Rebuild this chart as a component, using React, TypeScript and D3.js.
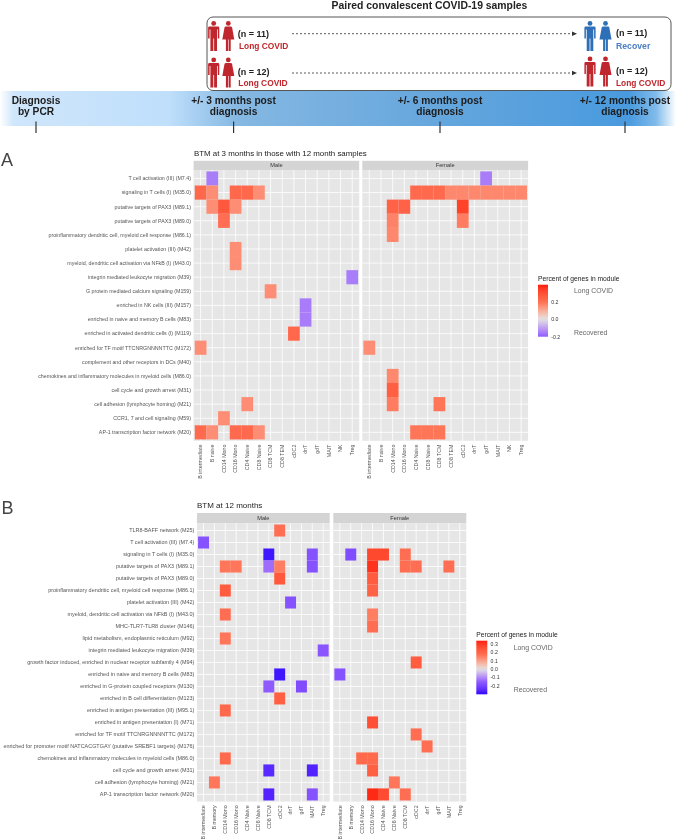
import React from "react";
import * as d3 from "d3";

const FONT = "'Liberation Sans', Arial, sans-serif";

const colsA = ["B intermediate","B naive","CD14 Mono","CD16 Mono","CD4 Naive","CD8 Naive","CD8 TCM","CD8 TEM","cDC2","dnT","gdT","MAIT","NK","Treg"];
const rowsA = [
  "T cell activation (III) (M7.4)","signaling in T cells (I) (M35.0)","putative targets of PAX3 (M89.1)","putative targets of PAX3 (M89.0)",
  "proinflammatory dendritic cell, myeloid cell response (M86.1)","platelet activation (III) (M42)","myeloid, dendritic cell activation via NFkB (I) (M43.0)",
  "integrin mediated leukocyte migration (M39)","G protein mediated calcium signaling (M159)","enriched in NK cells (III) (M157)","enriched in naive and memory B cells (M83)",
  "enriched in activated dendritic cells (I) (M119)","enriched for TF motif TTCNRGNNNNTTC (M172)","complement and other receptors in DCs (M40)",
  "chemokines and inflammatory molecules in myeloid cells (M86.0)","cell cycle and growth arrest (M31)","cell adhesion (lymphocyte homing) (M21)","CCR1, 7 and cell signaling (M59)","AP-1 transcription factor network (M20)",
];
type Cell = [number, number, number];
const maleA: Cell[] = [
  [0,1,-.15],[1,0,.22],[1,1,.15],[1,3,.22],[1,4,.22],[1,5,.15],[2,1,.15],[2,2,.27],[2,3,.15],[3,2,.2],[5,3,.15],[6,3,.15],
  [7,13,-.15],[8,6,.15],[9,9,-.15],[10,9,-.15],[11,8,.22],[12,0,.15],[16,4,.15],[17,2,.15],[18,0,.21],[18,1,.15],[18,3,.21],[18,4,.21],[18,5,.15],
];
const femaleA: Cell[] = [
  [0,10,-.15],[1,4,.21],[1,5,.21],[1,6,.21],[1,7,.16],[1,8,.16],[1,9,.16],[1,10,.16],[1,11,.16],[1,12,.16],[1,13,.16],
  [2,2,.24],[2,3,.24],[2,8,.33],[3,2,.17],[3,8,.18],[4,2,.16],[12,0,.15],[14,2,.16],[15,2,.25],[16,2,.18],[16,6,.19],[18,4,.19],[18,5,.19],[18,6,.19],
];
const ticksA = [0.2, 0, -0.2];

const colsB = ["B intermediate","B memory","CD14 Mono","CD16 Mono","CD4 Naive","CD8 Naive","CD8 TCM","cDC2","dnT","gdT","MAIT","Treg"];
const rowsB = [
  "TLR8-BAFF network (M25)","T cell activation (III) (M7.4)","signaling in T cells (I) (M35.0)","putative targets of PAX3 (M89.1)","putative targets of PAX3 (M89.0)",
  "proinflammatory dendritic cell, myeloid cell response (M86.1)","platelet activation (III) (M42)","myeloid, dendritic cell activation via NFkB (I) (M43.0)","MHC-TLR7-TLR8 cluster (M146)",
  "lipid metabolism, endoplasmic reticulum (M92)","integrin mediated leukocyte migration (M39)","growth factor induced, enriched in nuclear receptor subfamily 4 (M94)",
  "enriched in naive and memory B cells (M83)","enriched in G-protein coupled receptors (M130)","enriched in B cell differentiation (M123)","enriched in antigen presentation (III) (M95.1)",
  "enriched in antigen presentation (I) (M71)","enriched for TF motif TTCNRGNNNNTTC (M172)","enriched for promoter motif NATCACGTGAY (putative SREBF1 targets) (M176)",
  "chemokines and inflammatory molecules in myeloid cells (M86.0)","cell cycle and growth arrest (M31)","cell adhesion (lymphocyte homing) (M21)","AP-1 transcription factor network (M20)",
];
const maleB: Cell[] = [
  [0,7,.17],[1,0,-.17],[2,6,-.28],[2,10,-.17],[3,2,.16],[3,3,.16],[3,6,-.13],[3,7,.15],[3,10,-.17],[4,7,.23],[5,2,.22],[6,8,-.17],[7,2,.17],[9,2,.16],[10,11,-.16],
  [12,7,-.28],[13,6,-.15],[13,9,-.18],[14,7,.21],[15,2,.18],[19,2,.18],[20,6,-.25],[20,10,-.26],[21,1,.16],[22,6,-.26],[22,10,-.17],
];
const femaleB: Cell[] = [
  [2,1,-.18],[2,3,.27],[2,4,.27],[2,6,.17],[3,3,.31],[3,6,.17],[3,7,.17],[3,10,.17],[4,3,.22],[5,3,.2],[7,3,.15],[8,3,.17],[11,7,.22],[12,0,-.17],
  [16,3,.25],[17,7,.17],[18,8,.17],[19,2,.18],[19,3,.18],[20,3,.21],[21,5,.16],[22,3,.32],[22,4,.26],[22,6,.17],
];
const ticksB = [0.3, 0.2, 0.1, 0, -0.1, -0.2];

const timelineLabels: { x: number; lines: string[] }[] = [
  { x: 36, lines: ["Diagnosis", "by PCR"] },
  { x: 233.6, lines: ["+/- 3 months post", "diagnosis"] },
  { x: 440, lines: ["+/- 6 months post", "diagnosis"] },
  { x: 625, lines: ["+/- 12 months post", "diagnosis"] },
];
const RED = "#c0272d";
const BLUE = "#2f6fb8";

function Person({ x, y, color, female }: { x: number; y: number; color: string; female?: boolean }) {
  return (
    <g transform={`translate(${x},${y})`} fill={color}>
      <circle cx={0} cy={2.4} r={2.4} />
      {female ? (
        <>
          <path d="M-2.6,5.6 L2.6,5.6 Q3.4,5.6 3.8,6.6 L6,18.5 L-6,18.5 L-3.8,6.6 Q-3.4,5.6 -2.6,5.6 Z" />
          <rect x={-2.4} y={18} width={2.1} height={12} />
          <rect x={0.3} y={18} width={2.1} height={12} />
        </>
      ) : (
        <>
          <path d="M-4.3,5.6 L4.3,5.6 Q5.6,5.6 5.6,7 L5.6,17.5 L4.1,17.5 L4.1,8.5 L3.3,8.5 L3.3,30 L0.4,30 L0.4,17.5 L-0.4,17.5 L-0.4,30 L-3.3,30 L-3.3,8.5 L-4.1,8.5 L-4.1,17.5 L-5.6,17.5 L-5.6,7 Q-5.6,5.6 -4.3,5.6 Z" />
        </>
      )}
    </g>
  );
}

function makeColor(lo: number, hi: number) {
  return d3
    .scaleLinear<string>()
    .domain([-lo, -lo / 2, 0, hi / 2, hi])
    .range(["#2a00ff", "#8f5aff", "#e2e2e2", "#ff6e52", "#ff1a10"])
    .interpolate(d3.interpolateLab)
    .clamp(true);
}

function Facet({ x, y, w, h, stripH, title, cols, rows, cells, color, showRows, labelSize, rowSize }: any) {
  const xs = d3.scaleBand<number>().domain(cols.map((_: string, i: number) => i)).range([x, x + w]).paddingOuter(0.1).paddingInner(0);
  const ys = d3.scaleBand<number>().domain(rows.map((_: string, i: number) => i)).range([y, y + h]).paddingOuter(0.1).paddingInner(0);
  return (
    <g fontFamily={FONT}>
      <rect x={x} y={y - stripH} width={w} height={stripH} fill="#d4d4d4" />
      <text x={x + w / 2} y={y - stripH / 2} dy="0.35em" textAnchor="middle" fontSize={5.7} fill="#333">{title}</text>
      <rect x={x} y={y} width={w} height={h} fill="#e6e6e6" />
      {cols.map((_: string, i: number) => {
        const c = xs(i)! + xs.bandwidth() / 2;
        return <line key={i} x1={c} x2={c} y1={y} y2={y + h} stroke="#fff" strokeWidth={0.8} />;
      })}
      {rows.map((_: string, i: number) => {
        const c = ys(i)! + ys.bandwidth() / 2;
        return <line key={i} x1={x} x2={x + w} y1={c} y2={c} stroke="#fff" strokeWidth={0.8} />;
      })}
      {cells.map(([r, c, v]: Cell, i: number) => (
        <rect key={i} x={xs(c)} y={ys(r)} width={xs.bandwidth() + 0.05} height={ys.bandwidth() + 0.05} fill={color(v)} />
      ))}
      {showRows && rows.map((t: string, i: number) => (
        <text key={i} x={x - 2.6} y={ys(i)! + ys.bandwidth() / 2} dy="0.35em" textAnchor="end" fontSize={rowSize} fill="#555">{t}</text>
      ))}
      {cols.map((t: string, i: number) => {
        const c = xs(i)! + xs.bandwidth() / 2;
        return (
          <text key={i} transform={`translate(${c},${y + h + 3.8}) rotate(-90)`} dy="0.35em" textAnchor="end" fontSize={labelSize} fill="#555">{t}</text>
        );
      })}
    </g>
  );
}

function Legend({ x, y, w, h, top, bottom, ticks, color, id, title, titleY, tx, longY, recY }: any) {
  const s = d3.scaleLinear().domain([top, bottom]).range([y, y + h]);
  const stops = d3.range(0, 1.0001, 0.05);
  return (
    <g fontFamily={FONT}>
      <defs>
        <linearGradient id={id} x1="0" x2="0" y1="0" y2="1">
          {stops.map((t) => (
            <stop key={t} offset={t} stopColor={color(top + (bottom - top) * t)} />
          ))}
        </linearGradient>
      </defs>
      <text x={x} y={titleY} dy="0.35em" fontSize={6.7} fill="#222">{title}</text>
      <rect x={x} y={y} width={w} height={h} fill={`url(#${id})`} />
      {ticks.map((t: number) => (
        <text key={t} x={x + w + 3.3} y={s(t)} dy="0.35em" fontSize={5.2} fill="#333">{t.toFixed(1)}</text>
      ))}
      <text x={tx} y={longY} dy="0.35em" fontSize={6.9} fill="#666">Long COVID</text>
      <text x={tx} y={recY} dy="0.35em" fontSize={6.9} fill="#666">Recovered</text>
    </g>
  );
}

const cohortRows = [
  { y: 21, lx: 239, ny: 33.5, ly: 45.8, ay: 33.7, yr: 21, rightColor: BLUE, rightText: "#4a7ec2", n: "(n = 11)", rl: "Recover", rny: 33, rly: 45.7, rs: 8.7 },
  { y: 57.5, lx: 238.3, ny: 71.7, ly: 83.4, ay: 73, yr: 56.5, rightColor: RED, rightText: RED, n: "(n = 12)", rl: "Long COVID", rny: 70.7, rly: 83.3, rs: 8.4 },
];

export default function App() {
  const colorA = makeColor(0.4, 0.4);
  const colorB = makeColor(0.3, 0.34);
  return (
    <svg width={676} height={840} viewBox="0 0 676 840" style={{ position: "absolute", left: 0, top: 0, background: "#fff" }} fontFamily={FONT}>
      <defs>
        <linearGradient id="tl" x1="0" x2="1" y1="0" y2="0">
          <stop offset="0" stopColor="#ffffff" />
          <stop offset="0.02" stopColor="#cfe6fb" />
          <stop offset="0.25" stopColor="#bfdffb" />
          <stop offset="0.35" stopColor="#85b8e2" />
          <stop offset="0.65" stopColor="#65a6dd" />
          <stop offset="0.93" stopColor="#499ade" />
          <stop offset="0.97" stopColor="#7fbaea" />
          <stop offset="1" stopColor="#ffffff" />
        </linearGradient>
        <filter id="soft" x="0" y="0" width="100%" height="100%">
          <feGaussianBlur stdDeviation="0.35" />
        </filter>
      </defs>
      <g filter="url(#soft)">
        <rect x={0} y={91} width={676} height={35} fill="url(#tl)" />
        <text x={429.5} y={5.5} dy="0.35em" textAnchor="middle" fontSize={10.4} fontWeight={700} fill="#222">Paired convalescent COVID-19 samples</text>
        <rect x={207} y={17} width={464} height={73.5} rx={6} fill="none" stroke="#444" strokeWidth={0.9} />
        {cohortRows.map((r, i) => (
          <g key={i}>
            <Person x={213.7} y={r.y} color={RED} />
            <Person x={228.3} y={r.y} color={RED} female />
            <text x={237.8} y={r.ny} dy="0.35em" fontSize={9} fontWeight={700} fill="#222">{r.n}</text>
            <text x={r.lx} y={r.ly} dy="0.35em" fontSize={8.4} fontWeight={700} fill={RED}>Long COVID</text>
            <line x1={292} x2={572} y1={r.ay} y2={r.ay} stroke="#333" strokeWidth={0.8} strokeDasharray="2 2" />
            <path d={`M572,${r.ay - 2.2} L577,${r.ay} L572,${r.ay + 2.2} Z`} fill="#333" />
            <Person x={590} y={r.yr} color={r.rightColor} />
            <Person x={605.5} y={r.yr} color={r.rightColor} female />
            <text x={616} y={r.rny} dy="0.35em" fontSize={9} fontWeight={700} fill="#222">{r.n}</text>
            <text x={616} y={r.rly} dy="0.35em" fontSize={r.rs} fontWeight={700} fill={r.rightText}>{r.rl}</text>
          </g>
        ))}
        {timelineLabels.map((l) => (
          <g key={l.x}>
            {l.lines.map((t, i) => (
              <text key={t} x={l.x} y={100.7 + i * 10.6} dy="0.35em" textAnchor="middle" fontSize={10.2} fontWeight={700} fill="#1c1c1c">{t}</text>
            ))}
            <line x1={l.x} x2={l.x} y1={121.5} y2={133} stroke="#333" strokeWidth={1.2} />
          </g>
        ))}

        <text x={1} y={165.7} fontSize={18} fill="#444">A</text>
        <text x={1.5} y={514} fontSize={18} fill="#444">B</text>

        <text x={194} y={153} dy="0.35em" fontSize={7.9} fill="#222">BTM at 3 months in those with 12 month samples</text>
        <Facet x={193.6} y={170} w={165.6} h={270.8} stripH={9.2} title="Male" cols={colsA} rows={rowsA} cells={maleA} color={colorA} showRows labelSize={5.3} rowSize={5.3} />
        <Facet x={362.3} y={170} w={165.8} h={270.8} stripH={9.2} title="Female" cols={colsA} rows={rowsA} cells={femaleA} color={colorA} labelSize={5.3} rowSize={5.3} />
        <Legend x={538} y={284.7} w={10} h={52} top={0.397} bottom={-0.2} ticks={ticksA} color={colorA} id="la" title="Percent of genes in module" titleY={278.7} tx={574} longY={291} recY={333} />

        <text x={197} y={505.5} dy="0.35em" fontSize={8} fill="#222">BTM at 12 months</text>
        <Facet x={197} y={523.3} w={132.7} h={278.3} stripH={10.3} title="Male" cols={colsB} rows={rowsB} cells={maleB} color={colorB} showRows labelSize={5.3} rowSize={5.45} />
        <Facet x={333.3} y={523.3} w={133} h={278.3} stripH={10.3} title="Female" cols={colsB} rows={rowsB} cells={femaleB} color={colorB} labelSize={5.3} rowSize={5.45} />
        <Legend x={476.3} y={640.7} w={11} h={53.6} top={0.34} bottom={-0.3} ticks={ticksB} color={colorB} id="lb" title="Percent of genes in module" titleY={634.7} tx={513.7} longY={648} recY={690} />
      </g>
    </svg>
  );
}
